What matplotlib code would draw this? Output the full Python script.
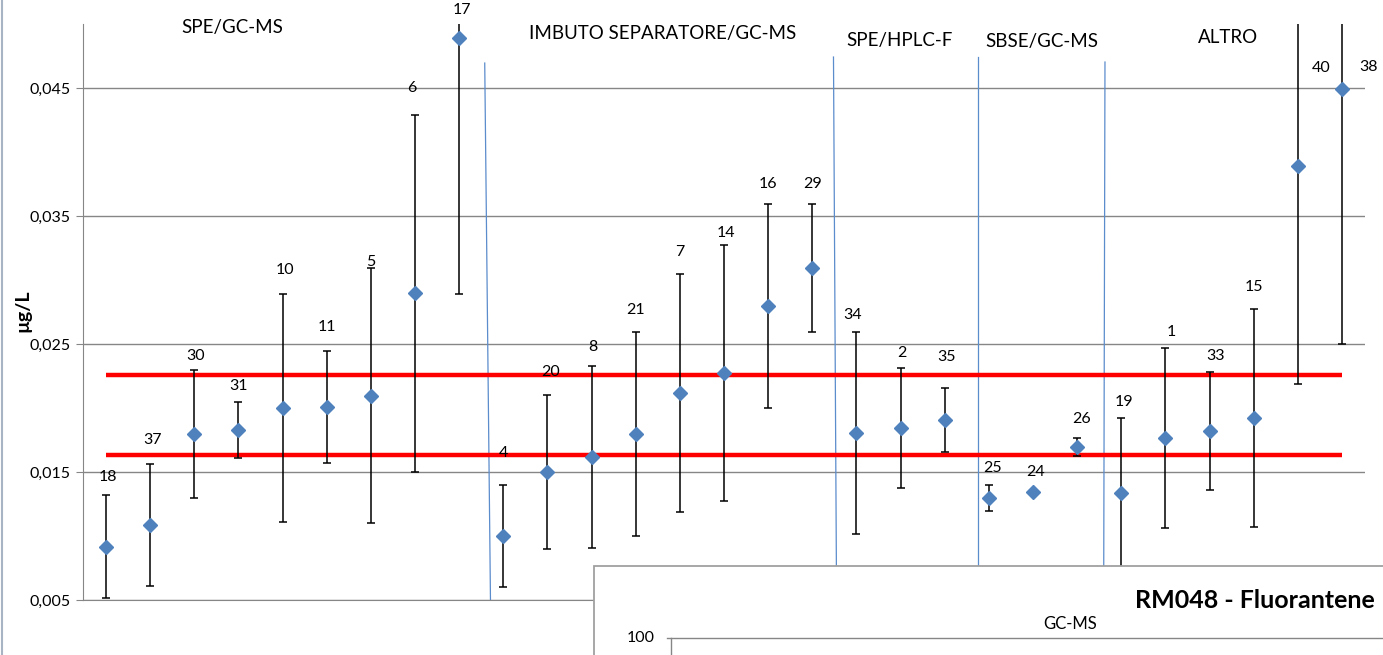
import matplotlib
matplotlib.use("Agg")
import matplotlib.pyplot as plt
from matplotlib.patches import Rectangle
from matplotlib.lines import Line2D
import numpy as np

plt.rcParams['font.family'] = ['Lato', 'DejaVu Sans']

# ---- data ----
lab_ids = ['18', '37', '30', '31', '10', '11', '5', '6', '17',
           '4', '20', '8', '21', '7', '14', '16', '29',
           '34', '2', '35',
           '25', '24', '26',
           '19', '1', '33', '15', '40', '38']
values = [0.00917, 0.01088, 0.01797, 0.01828, 0.0200, 0.02008, 0.02096, 0.02896, 0.04888,
          0.00998, 0.01498, 0.0162, 0.01797, 0.02117, 0.02276, 0.02797, 0.03096,
          0.01807, 0.01846, 0.01906,
          0.01299, 0.01346, 0.01698,
          0.01338, 0.01766, 0.01823, 0.01924, 0.03894, 0.0449]
uncert = [0.0040, 0.00477, 0.0050, 0.00218, 0.0089, 0.0044, 0.00995, 0.01395, 0.0200,
          0.0040, 0.0060, 0.0071, 0.0080, 0.0093, 0.0100, 0.0080, 0.0050,
          0.0079, 0.0047, 0.0025,
          0.0010, 0.0, 0.0007,
          0.0058, 0.0070, 0.0046, 0.0085, 0.0171, 0.0199]
# heights of the numeric labels (data units) and horizontal shift (categories)
label_y = [0.01461, 0.0175, 0.02406, 0.02172, 0.03078, 0.02633, 0.0314, 0.0450, 0.0511,
           0.01648, 0.02281, 0.02477, 0.02766, 0.03221, 0.03367, 0.0375, 0.0375,
           0.02727, 0.0243, 0.02401,
           0.01534, 0.01502, 0.01912,
           0.02045, 0.02596, 0.02406, 0.02943, 0.04654, 0.04667]
label_dx = [0.05, 0.05, 0.02, 0.0, 0.05, 0.0, 0.0, -0.07, 0.07,
            0.0, 0.07, 0.03, 0.0, 0.0, 0.05, 0.0, 0.0,
            -0.09, 0.03, 0.05,
            0.09, 0.05, 0.09,
            0.07, 0.13, 0.14, 0.0, 0.52, 0.59]
limit_low = 0.01633
limit_high = 0.02258

groups = ['SPE/GC-MS', 'IMBUTO SEPARATORE/GC-MS', 'SPE/HPLC-F', 'SBSE/GC-MS', 'ALTRO']
group_x = [2.87, 12.61, 17.97, 21.21, 25.42]
group_y = [0.04969, 0.04922, 0.04875, 0.04867, 0.04898]
sep_x_top = [8.58, 16.48, 19.76, 22.63]
sep_x_bot = [8.71, 16.55, 19.76, 22.60]
sep_y_top = [0.04695, 0.04742, 0.04742, 0.04703]

yticks = [0.005, 0.015, 0.025, 0.035, 0.045]

W, H = 1383, 655
fig = plt.figure(figsize=(W / 100, H / 100), dpi=100)
fig.patch.set_facecolor('white')

def fx(px):
    return px / W

def fy(py):
    return 1 - py / H

ax = fig.add_axes([fx(83), fy(600), fx(1365) - fx(83), fy(24) - fy(600)])
n = len(values)
x = np.arange(n)
ax.set_xlim(-0.52, n - 0.48)
ax.set_ylim(0.005, 0.05)

gray = '#868686'
ax.set_yticks(yticks)
ax.set_yticklabels([('%.3f' % t).replace('.', ',') for t in yticks], fontsize=11.5)
ax.yaxis.grid(True, color=gray, lw=1.0)
ax.set_axisbelow(True)
ax.set_xticks([])
for s in ['top', 'right']:
    ax.spines[s].set_visible(False)
ax.spines['left'].set_color(gray)
ax.spines['bottom'].set_color(gray)
ax.tick_params(axis='y', length=5, color=gray, pad=4)
fig.text(fx(23), fy(311), 'µg/L', rotation=90, ha='center', va='center',
         fontsize=14, fontweight='bold')

# separators
for xt, xb, yt in zip(sep_x_top, sep_x_bot, sep_y_top):
    ax.plot([xt, xb], [yt, 0.005], color='#5b8ccc', lw=0.9, zorder=1)

# limits
ax.plot([0, n - 1], [limit_high, limit_high], color='#ff0000', lw=3.2, zorder=2, solid_capstyle='butt')
ax.plot([0, n - 1], [limit_low, limit_low], color='#ff0000', lw=3.2, zorder=2, solid_capstyle='butt')

vals = np.array(values)
unc = np.array(uncert)
m = unc > 0
ax.errorbar(x[m], vals[m], yerr=unc[m], fmt='none', ecolor='black', elinewidth=1.1,
            capsize=3.2, capthick=1.1, zorder=3)
ax.plot(x, vals, linestyle='none', marker='D', markersize=7.2, color='#4f81bd',
        markeredgecolor='#4f81bd', zorder=4)

for i in range(n):
    ax.text(x[i] + label_dx[i], label_y[i], lab_ids[i], ha='center', va='center',
            fontsize=11.5, clip_on=False, zorder=5)

for g, gx, gy in zip(groups, group_x, group_y):
    ax.text(gx, gy, g, ha='center', va='center', fontsize=13.5, zorder=5)

# left window border
fig.add_artist(Line2D([fx(2), fx(2)], [0, 1], color='#a8b4c4', lw=1.5))

# overlapping second chart window
ov = Rectangle((fx(594), fy(700)), 1.0, fy(566) - fy(700), transform=fig.transFigure,
               facecolor='white', edgecolor='#a0a0a0', lw=1.3, zorder=10)
fig.add_artist(ov)
fig.add_artist(Line2D([fx(667), fx(1400)], [fy(638), fy(638)], color=gray, lw=1.0, zorder=11))
fig.add_artist(Line2D([fx(671), fx(671)], [fy(638), fy(700)], color=gray, lw=1.0, zorder=11))
fig.text(fx(1375), fy(601), 'RM048 - Fluorantene', ha='right', va='center',
         fontsize=18, fontweight='bold', zorder=12)
fig.text(fx(1070), fy(624), 'GC-MS', ha='center', va='center', fontsize=12, zorder=12)
fig.text(fx(641), fy(638), '100', ha='center', va='center', fontsize=11.5, zorder=12)

fig.savefig('out.png', dpi=100, facecolor='white')
